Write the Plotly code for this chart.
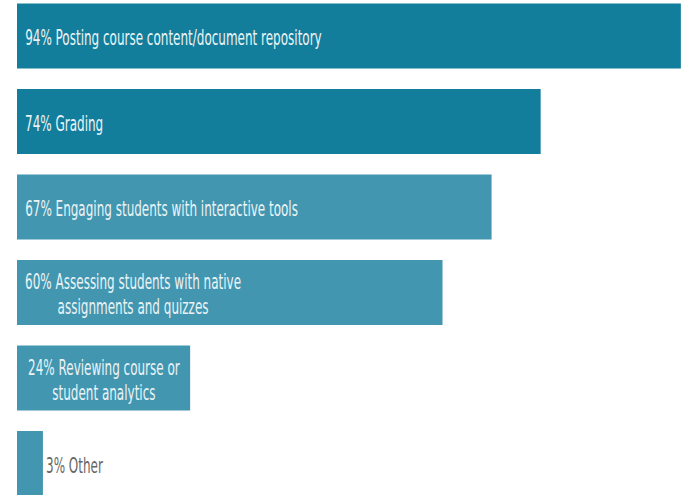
import plotly.graph_objects as go

# Survey results: share of respondents using each LMS feature
features = [
    "Posting course content/document repository",
    "Grading",
    "Engaging students with interactive tools",
    "Assessing students with native<br>assignments and quizzes",
    "Reviewing course or<br>student analytics",
    "Other",
]
percent = [94, 74, 67, 60, 24, 3]
bar_colors = ["#137E9B", "#137E9B", "#4396B0", "#4396B0", "#4396B0", "#4396B0"]
# labels sit inside the bar unless the bar is too narrow
label_inside = [True, True, True, True, True, False]
label_pad = [6, 6, 6, 6, 9, 1]

positions = list(range(len(features)))
BASE = -0.7
GLYPH = "<span style='font-size:21px'>"

fig = go.Figure()
fig.add_trace(go.Bar(
    x=[v - BASE for v in percent],
    base=BASE,
    y=positions,
    orientation="h",
    width=0.76,
    marker=dict(color=bar_colors, line=dict(width=0)),
    hoverinfo="skip",
))

FONT = "DejaVu Sans Condensed, DejaVu Sans, sans-serif"
for i, (name, val, inside, pad) in enumerate(zip(features, percent, label_inside, label_pad)):
    # base size sets the leading; glyphs are drawn a little larger
    label = f"{val}% {name}".replace("<br>", "</span><br>" + GLYPH)
    fig.add_annotation(
        x=BASE if inside else val, y=i,
        xref="x", yref="y",
        text=f"{GLYPH}{label}</span>",
        showarrow=False,
        xanchor="left",
        yanchor="middle",
        align="center",
        xshift=pad,
        yshift=-2,
        font=dict(family=FONT, size=19,
                  color="#EAF3F6" if inside else "#666666"),
    )

fig.update_layout(
    width=689, height=495,
    margin=dict(l=17, r=0, t=0, b=0),
    paper_bgcolor="white",
    plot_bgcolor="white",
    showlegend=False,
    xaxis=dict(range=[BASE, 95.16], visible=False, fixedrange=True),
    yaxis=dict(range=[5.368, -0.421], visible=False, fixedrange=True),
)

# Narrow the label type horizontally for a tall, condensed look
narrow_css = """
var s = document.createElement('style');
s.textContent = '.annotation-text{transform-box:fill-box;transform-origin:0% 50%;transform:scaleX(0.635);}';
document.head.appendChild(s);
"""

fig.write_html("out.html", post_script=narrow_css)
